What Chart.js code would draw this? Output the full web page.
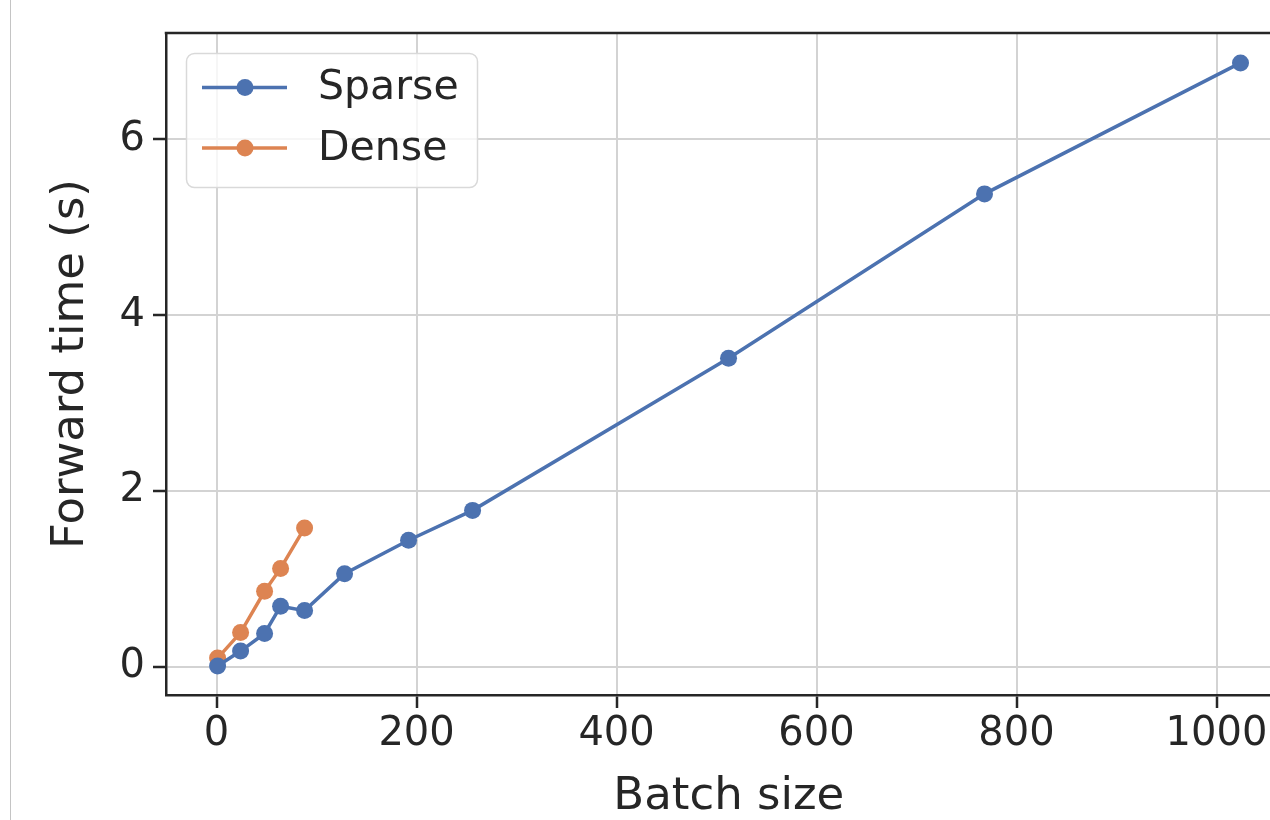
<!DOCTYPE html>
<html>
<head>
<meta charset="utf-8">
<script src="https://cdn.jsdelivr.net/npm/chart.js@4.4.1/dist/chart.umd.min.js"></script>
<style>
  html, body { margin: 0; padding: 0; background: #ffffff; overflow: hidden; width: 1270px; height: 820px; }
  #wrap { position: absolute; left: 0; top: 0; width: 1300px; height: 820px; }
  #edge { position: absolute; left: 10px; top: 0; width: 1px; height: 820px; background: #c4c4c4; }
</style>
</head>
<body>
<div id="wrap"><canvas id="c" width="1300" height="820"></canvas></div>
<div id="edge"></div>
<script>
// Forward pass time vs. batch size
const batchSparse = [1, 24, 48, 64, 88, 128, 192, 256, 512, 768, 1024];
const timeSparse  = [0.01, 0.18, 0.38, 0.69, 0.64, 1.06, 1.44, 1.78, 3.51, 5.38, 6.87];
const batchDense  = [1, 24, 48, 64, 88];
const timeDense   = [0.10, 0.39, 0.86, 1.12, 1.58];
const xTicks = [0, 200, 400, 600, 800, 1000];
const yTicks = [0, 2, 4, 6];

const BLUE = '#4C72B0';
const ORANGE = '#DD8452';
const INK = '#262626';
const GRID = '#d3d3d3';
const FONT = "'DejaVu Sans', sans-serif";

const toPoints = (xs, ys) => xs.map((x, i) => ({ x: x, y: ys[i] }));

// Closes the frame along the top edge of the plot area
const topSpine = {
  id: 'topSpine',
  afterDraw(chart) {
    const { ctx, chartArea: a } = chart;
    ctx.save();
    ctx.strokeStyle = INK;
    ctx.lineWidth = 2.5;
    ctx.beginPath();
    ctx.moveTo(a.left - 1.25, a.top);
    ctx.lineTo(a.right, a.top);
    ctx.stroke();
    ctx.restore();
  }
};

// Framed legend with a line-and-marker handle for each series
const boxedLegend = {
  id: 'boxedLegend',
  afterDraw(chart) {
    const ctx = chart.ctx;
    ctx.save();
    ctx.beginPath();
    ctx.roundRect(186.5, 53.5, 291, 134, 8);
    ctx.fillStyle = 'rgba(255,255,255,0.8)';
    ctx.fill();
    ctx.strokeStyle = '#d9d9d9';
    ctx.lineWidth = 1.5;
    ctx.stroke();
    chart.data.datasets.forEach((ds, i) => {
      const y = 87.5 + i * 60.5;
      ctx.strokeStyle = ds.borderColor;
      ctx.lineWidth = 3.5;
      ctx.beginPath();
      ctx.moveTo(202, y);
      ctx.lineTo(287, y);
      ctx.stroke();
      ctx.fillStyle = ds.borderColor;
      ctx.beginPath();
      ctx.arc(245, y, 8.5, 0, Math.PI * 2);
      ctx.fill();
      ctx.fillStyle = INK;
      ctx.font = '41px ' + FONT;
      ctx.textBaseline = 'middle';
      ctx.textAlign = 'left';
      ctx.fillText(ds.label, 318, y + 1);
    });
    ctx.restore();
  }
};

const axisStyle = (ticks) => ({
  type: 'linear',
  grid: { color: GRID, lineWidth: 2, tickColor: INK, tickLength: 13, tickWidth: 2.5, drawTicks: true },
  border: { display: true, color: INK, width: 2.5 },
  afterBuildTicks: (scale) => { scale.ticks = ticks.map(v => ({ value: v })); }
});

new Chart(document.getElementById('c'), {
  type: 'line',
  data: {
    datasets: [
      {
        label: 'Sparse',
        data: toPoints(batchSparse, timeSparse),
        borderColor: BLUE, backgroundColor: BLUE,
        pointBackgroundColor: BLUE, pointBorderWidth: 0,
        borderWidth: 3.5, pointRadius: 8.5, pointHoverRadius: 8.5, tension: 0
      },
      {
        label: 'Dense',
        data: toPoints(batchDense, timeDense),
        borderColor: ORANGE, backgroundColor: ORANGE,
        pointBackgroundColor: ORANGE, pointBorderWidth: 0,
        borderWidth: 3.5, pointRadius: 8.5, pointHoverRadius: 8.5, tension: 0
      }
    ]
  },
  options: {
    responsive: false,
    animation: false,
    events: [],
    layout: { padding: { top: 33, right: 7, left: 0, bottom: 0 } },
    plugins: { legend: { display: false }, tooltip: { enabled: false } },
    scales: {
      x: Object.assign(axisStyle(xTicks), {
        min: -50.6, max: 1075,
        ticks: { color: INK, font: { family: FONT, size: 40 }, padding: 3, maxRotation: 0, autoSkip: false,
                 callback: (v) => String(v) },
        title: { display: true, text: 'Batch size', color: INK,
                 font: { family: FONT, size: 45, lineHeight: 1 }, padding: { top: 0, bottom: 0 } },
        afterFit: (scale) => { scale.height = 125; }
      }),
      y: Object.assign(axisStyle(yTicks), {
        min: -0.32, max: 7.21,
        ticks: { color: INK, font: { family: FONT, size: 40 }, padding: 8,
                 callback: (v) => String(v) },
        title: { display: true, text: 'Forward time (s)', color: INK,
                 font: { family: FONT, size: 45, lineHeight: 1 }, padding: { top: 49, bottom: 0 } },
        afterFit: (scale) => { scale.width = 166; }
      })
    }
  },
  plugins: [topSpine, boxedLegend]
});
</script>
</body>
</html>
